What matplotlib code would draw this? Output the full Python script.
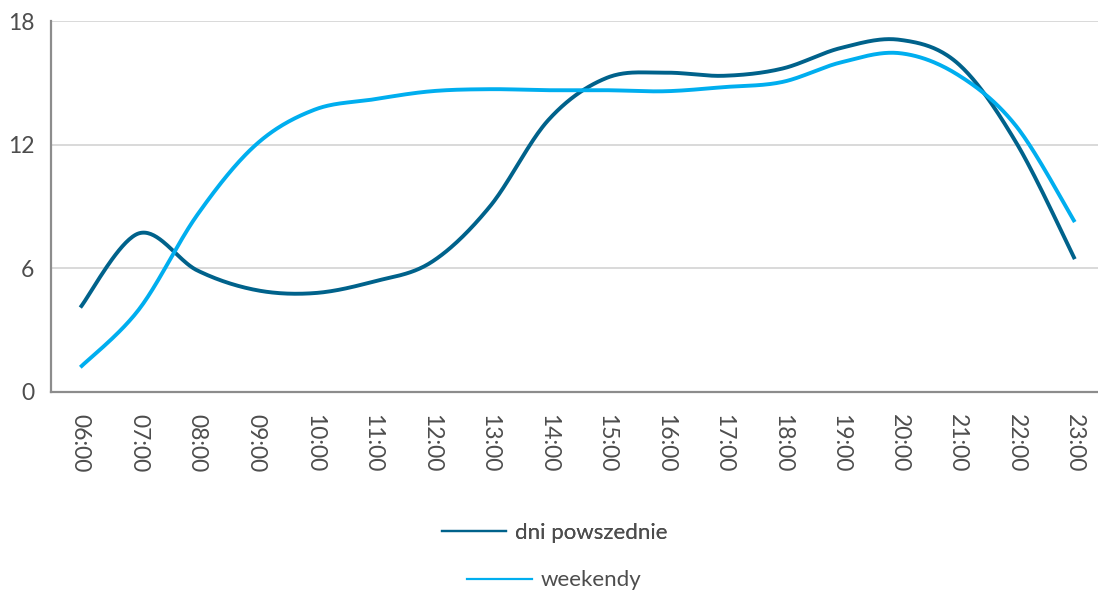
import numpy as np
import matplotlib
matplotlib.use("Agg")
import matplotlib.pyplot as plt
from matplotlib.lines import Line2D

plt.rcParams['font.family'] = ['Lato', 'DejaVu Sans']

hours = ["06:00", "07:00", "08:00", "09:00", "10:00", "11:00", "12:00", "13:00", "14:00",
         "15:00", "16:00", "17:00", "18:00", "19:00", "20:00", "21:00", "22:00", "23:00"]
weekdays = [4.1, 7.7, 5.9, 4.95, 4.8, 5.35, 6.3, 9.0, 13.2,
            15.25, 15.5, 15.35, 15.7, 16.7, 17.1, 15.95, 12.1, 6.45]
weekend = [1.2, 4.0, 8.6, 12.0, 13.7, 14.2, 14.6, 14.7, 14.65,
           14.65, 14.6, 14.8, 15.05, 16.0, 16.45, 15.4, 12.9, 8.25]

DARK = "#00628B"
LIGHT = "#00AEEF"
TEXT = "#4d4d4d"


def smooth_curve(xs, ys, steps=40):
    # cubic bezier through every point, control points from neighbours (1/6 tension)
    xs = np.asarray(xs, float)
    ys = np.asarray(ys, float)
    px = np.concatenate(([xs[0]], xs, [xs[-1]]))
    py = np.concatenate(([ys[0]], ys, [ys[-1]]))
    out_x, out_y = [], []
    t = np.linspace(0, 1, steps)
    for i in range(1, len(px) - 2):
        x0, y0 = px[i], py[i]
        x3, y3 = px[i + 1], py[i + 1]
        x1 = x0 + (px[i + 1] - px[i - 1]) / 6
        y1 = y0 + (py[i + 1] - py[i - 1]) / 6
        x2 = x3 - (px[i + 2] - px[i]) / 6
        y2 = y3 - (py[i + 2] - py[i]) / 6
        bx = (1 - t) ** 3 * x0 + 3 * (1 - t) ** 2 * t * x1 + 3 * (1 - t) * t ** 2 * x2 + t ** 3 * x3
        by = (1 - t) ** 3 * y0 + 3 * (1 - t) ** 2 * t * y1 + 3 * (1 - t) * t ** 2 * y2 + t ** 3 * y3
        out_x.extend(bx)
        out_y.extend(by)
    return np.array(out_x), np.array(out_y)


fig = plt.figure(figsize=(10.98, 5.99), dpi=100)
ax = fig.add_axes([0.0465, 0.3456, 0.959, 0.619])

x = np.arange(len(hours))
sx, sy = smooth_curve(x, weekdays)
ax.plot(sx, sy, color=DARK, lw=2.8, solid_capstyle='butt', zorder=3)
sx, sy = smooth_curve(x, weekend)
ax.plot(sx, sy, color=LIGHT, lw=2.8, solid_capstyle='butt', zorder=3)

ax.set_xlim(-0.5, len(hours) - 0.5)
ax.set_ylim(0, 18)
ax.set_yticks([0, 6, 12, 18])
ax.set_xticks(x)
ax.set_xticklabels(hours, rotation=270, fontsize=16.5, color=TEXT)
ax.tick_params(axis='y', length=0, pad=12, labelsize=16.5, labelcolor=TEXT)
ax.tick_params(axis='x', length=0, pad=16)

ax.grid(axis='y', color="#d9d9d9", lw=1.4)
ax.set_axisbelow(True)
for side in ['top', 'right']:
    ax.spines[side].set_visible(False)
for side in ['left', 'bottom']:
    ax.spines[side].set_color("#8c8c8c")
    ax.spines[side].set_linewidth(1.6)

# each legend entry centred on its own row
leg_kw = dict(loc='center', frameon=False, fontsize=16, handlelength=2.9,
              handletextpad=0.4, labelcolor=TEXT)
leg1 = fig.legend(handles=[Line2D([], [], color=DARK, lw=1.6)], labels=["dni powszednie"],
                  bbox_to_anchor=(0.505, 0.11), **leg_kw)
fig.legend(handles=[Line2D([], [], color=LIGHT, lw=1.6)], labels=["weekendy"],
           bbox_to_anchor=(0.505, 0.031), **leg_kw)
fig.add_artist(leg1)

fig.savefig("out.png", dpi=100, facecolor="white")
